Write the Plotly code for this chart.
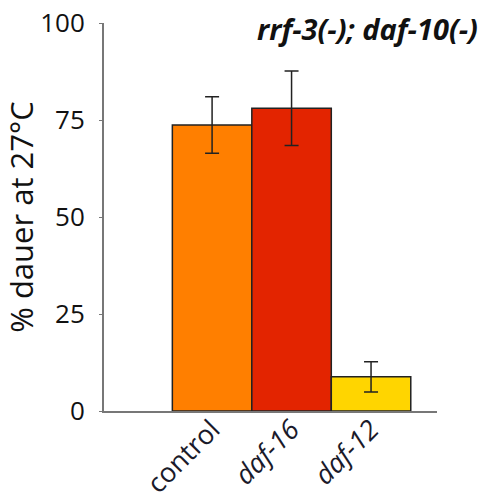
import plotly.graph_objects as go

categories = ["control", "<i>daf-16</i>", "<i>daf-12</i>"]
values = [73.7, 78.0, 8.8]
errors = [7.3, 9.6, 3.9]
colors = ["#FF7F00", "#E32400", "#FFD500"]
y_ticks = [0, 25, 50, 75, 100]

xpos = list(range(len(categories)))

fig = go.Figure()
fig.add_trace(go.Bar(
    x=xpos, y=values, width=1.0,
    marker=dict(color=colors, line=dict(color="#222222", width=1.5)),
    error_y=dict(type="data", array=errors, visible=True, color="#222222", thickness=1.5, width=7),
))

font_family = "Open Sans, Liberation Sans, sans-serif"
fig.update_layout(
    width=487, height=502,
    margin=dict(l=104, r=50, t=23, b=91),
    paper_bgcolor="white", plot_bgcolor="white",
    showlegend=False,
    font=dict(family=font_family, color="#111111"),
    xaxis=dict(
        range=[-1.36, 2.83], automargin=False,
        tickvals=xpos, ticktext=categories, tickangle=-45,
        tickfont=dict(size=27, family=font_family, color="#1a1a2a"),
        ticklabelstandoff=-10, ticklabeloverflow="allow",
        showline=True, linecolor="#777777", linewidth=2,
        showgrid=False, zeroline=False, ticks="",
    ),
    yaxis=dict(
        range=[0, 100], tickvals=y_ticks, automargin=False,
        tickfont=dict(size=26, family=font_family, color="#111111"),
        ticklabelstandoff=9, ticklabeloverflow="allow",
        showline=True, linecolor="#777777", linewidth=2,
        showgrid=False, zeroline=False, ticks="outside", ticklen=3, tickcolor="#777777",
        title=dict(text="% dauer at 27°C", font=dict(size=31, family=font_family, color="#111111"), standoff=3),
    ),
    annotations=[dict(
        text="<b><i>rrf-3(-); daf-10(-)</i></b>",
        x=1.129, y=0.987, xref="paper", yref="paper",
        xanchor="right", yanchor="middle", showarrow=False,
        font=dict(size=29, family=font_family, color="#111111"),
    )],
)

fig.write_html(
    "out.html",
    config={"displayModeBar": False},
    post_script="document.body.style.margin='0';document.body.style.overflow='hidden';",
)
